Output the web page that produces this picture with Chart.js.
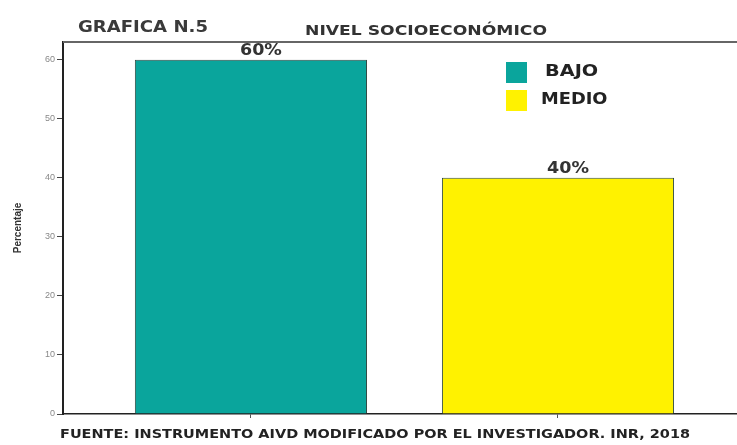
<!DOCTYPE html>
<html>
<head>
<meta charset="utf-8">
<script src="https://cdn.jsdelivr.net/npm/chart.js@4"></script>
<style>
  body { margin: 0; background: #fff; }
  #wrap { width: 737px; height: 445px; }
</style>
</head>
<body>
<div id="wrap"><canvas id="nivel" width="737" height="445"></canvas></div>
<script>
// datos
const categorias = ['BAJO', 'MEDIO'];
const porcentajes = [60, 40];
const etiquetas = ['60%', '40%'];
const yTicks = [0, 10, 20, 30, 40, 50, 60];
const colores = ['#0aa59c', '#fff200'];

const FONT = '"Liberation Sans", Arial, sans-serif';
const FONT_TXT = '"DejaVu Sans", Verdana, sans-serif';

// texto en negrita estirado a un ancho dado (la imagen original esta estirada)
function textoAncho(ctx, texto, x, y, ancho, size, color) {
    ctx.save();
    ctx.font = 'bold ' + size + 'px ' + FONT_TXT;
    const nat = ctx.measureText(texto).width;
    ctx.translate(x, y);
    ctx.scale(ancho / nat, 1);
    ctx.textAlign = 'left';
    ctx.textBaseline = 'middle';
    ctx.fillStyle = color;
    ctx.fillText(texto, 0, 0);
    ctx.restore();
}

const decoracion = {
    id: 'decoracion',
    afterDraw(chart) {
        const ctx = chart.ctx;
        const area = chart.chartArea;

        // linea superior del marco
        ctx.save();
        ctx.strokeStyle = '#666';
        ctx.lineWidth = 2;
        ctx.beginPath();
        ctx.moveTo(area.left, area.top);
        ctx.lineTo(chart.width, area.top);
        ctx.stroke();
        ctx.restore();

        textoAncho(ctx, 'GRAFICA N.5', 78, 28, 130, 15, '#3a3a3a');
        textoAncho(ctx, 'NIVEL SOCIOECONÓMICO', 305, 31, 242, 14, '#333');
        textoAncho(ctx, 'FUENTE: INSTRUMENTO AIVD MODIFICADO POR EL INVESTIGADOR. INR, 2018', 60, 435, 630, 13, '#222');

        // etiquetas de valor
        const meta = chart.getDatasetMeta(0);
        meta.data.forEach((bar, i) => {
            const w = 42;
            textoAncho(ctx, etiquetas[i], bar.x + 10 - w / 2, bar.y - 8.5, w, 15, '#333');
        });

        // leyenda
        const ly = [62, 90];
        categorias.forEach((c, i) => {
            ctx.save();
            ctx.fillStyle = colores[i];
            ctx.fillRect(506, ly[i], 21, 21);
            ctx.restore();
            const w = c.length * 13.3;
            textoAncho(ctx, c, i === 0 ? 545 : 541, ly[i] + 10.5, w, 15, '#222');
        });
    }
};

new Chart(document.getElementById('nivel'), {
    type: 'bar',
    data: {
        labels: categorias,
        datasets: [{
            label: 'Porcentaje',
            data: categorias.map((c, i) => ({ x: i, y: porcentajes[i] })),
            backgroundColor: colores,
            borderColor: '#2f4a44',
            borderWidth: 1,
            grouped: false,
            barPercentage: 0.756,
            categoryPercentage: 1
        }]
    },
    options: {
        responsive: false,
        animation: false,
        layout: { padding: { top: 42, bottom: 21, left: 0, right: 0 } },
        plugins: {
            legend: { display: false },
            tooltip: { enabled: false }
        },
        scales: {
            x: {
                type: 'linear',
                offset: false,
                min: -0.612,
                max: 1.583,
                afterBuildTicks: (s) => { s.ticks = categorias.map((c, i) => ({ value: i })); },
                afterFit: (s) => { s.height = 10; },
                ticks: { callback: () => '' },
                grid: { offset: false, drawOnChartArea: false, tickLength: 4, color: '#555' },
                border: { color: '#222', width: 1.5 }
            },
            y: {
                min: 0,
                max: 63,
                afterBuildTicks: (s) => { s.ticks = yTicks.map(v => ({ value: v })); },
                afterFit: (s) => { s.width = 63; },
                ticks: { font: { size: 9, family: FONT }, color: '#888', padding: 2 },
                grid: { drawOnChartArea: false, tickLength: 6, color: '#444' },
                border: { color: '#222', width: 2 },
                title: {
                    display: true,
                    text: 'Percentaje',
                    font: { size: 10, weight: 'bold', family: FONT },
                    color: '#333',
                    padding: { top: 12, bottom: 0 }
                }
            }
        }
    },
    plugins: [decoracion]
});
</script>
</body>
</html>
